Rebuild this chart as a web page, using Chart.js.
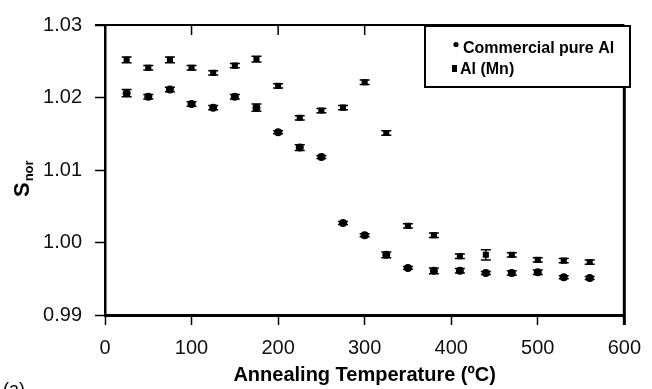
<!DOCTYPE html>
<html><head><meta charset="utf-8">
<script src="https://cdn.jsdelivr.net/npm/chart.js@4.4.1/dist/chart.umd.min.js"></script>
<style>html,body{margin:0;padding:0;background:#fff;}#wrap{width:652px;height:389px;position:relative;}</style>
</head><body><div id="wrap"><canvas id="c" width="652" height="389"></canvas></div>
<script>
const temperatures = [25,50,75,100,125,150,175,200,225,250,275,300,325,350,380,410,440,470,500,530,560];
const pureAl    = [1.0206,1.0201,1.0211,1.0191,1.0186,1.0201,1.0186,1.0152,1.0131,1.0118,1.0027,1.0010,0.9983,0.9965,0.9961,0.9961,0.9958,0.9958,0.9959,0.9952,0.9951];
const pureAlErr = [0.0005,0.0003,0.0003,0.0003,0.0003,0.0003,0.0005,0.0002,0.0004,0.0002,0.0002,0.0002,0.0004,0.0002,0.0004,0.0003,0.0002,0.0003,0.0003,0.0002,0.0002];
const alMn      = [1.0252,1.0241,1.0252,1.0241,1.0234,1.0244,1.0253,1.0216,1.0172,1.0182,1.0186,1.0221,1.0151,1.0023,1.0010,0.9981,0.9983,0.9983,0.9976,0.9975,0.9973];
const alMnErr   = [0.0004,0.0003,0.0004,0.0003,0.0003,0.0003,0.0004,0.0003,0.0003,0.0003,0.0003,0.0003,0.0003,0.0003,0.0003,0.0003,0.0007,0.0003,0.0003,0.0003,0.0003];
const seriesLabels = ['Commercial pure Al', 'Al (Mn)'];
const xTickValues = [0,100,200,300,400,500,600];
const yTickValues = [0.99,1.00,1.01,1.02,1.03];
const xTitle = 'Annealing Temperature (\u00BAC)';
const yTitleMain = 'S';
const yTitleSub = 'nor';
const panelLabel = '(a)';

const toPoints = (vals) => temperatures.map((t, i) => ({x: t, y: vals[i]}));

const errorBarPlugin = {
  id: 'errorBars',
  afterDatasetsDraw(chart) {
    const ctx = chart.ctx, xs = chart.scales.x, ys = chart.scales.y;
    const errs = [pureAlErr, alMnErr];
    ctx.save();
    ctx.strokeStyle = '#000';
    ctx.lineWidth = 1.5;
    chart.data.datasets.forEach((ds, di) => {
      ds.data.forEach((p, i) => {
        const e = errs[di][i];
        const px = xs.getPixelForValue(p.x);
        const y1 = ys.getPixelForValue(p.y + e);
        const y2 = ys.getPixelForValue(p.y - e);
        ctx.beginPath();
        ctx.moveTo(px, y1); ctx.lineTo(px, y2);
        ctx.moveTo(px - 5, y1); ctx.lineTo(px + 5, y1);
        ctx.moveTo(px - 5, y2); ctx.lineTo(px + 5, y2);
        ctx.stroke();
      });
    });
    ctx.restore();
  }
};

const framePlugin = {
  id: 'frame',
  afterDraw(chart) {
    const ctx = chart.ctx, a = chart.chartArea, xs = chart.scales.x;
    ctx.save();
    ctx.strokeStyle = '#000';
    ctx.lineWidth = 2;
    ctx.beginPath(); ctx.moveTo(a.left - 10, a.top); ctx.lineTo(a.right, a.top); ctx.stroke();
    ctx.lineWidth = 3;
    ctx.beginPath(); ctx.moveTo(a.right, a.top); ctx.lineTo(a.right, a.bottom + 10); ctx.stroke();
    ctx.lineWidth = 1.5;
    xTickValues.slice(1, -1).forEach(v => {
      const px = xs.getPixelForValue(v);
      ctx.beginPath(); ctx.moveTo(px, a.top); ctx.lineTo(px, a.top + 10); ctx.stroke();
    });
    ctx.fillStyle = '#000';
    ctx.translate(29, 197);
    ctx.rotate(-Math.PI / 2);
    ctx.textBaseline = 'alphabetic';
    ctx.textAlign = 'left';
    ctx.font = 'bold 22px "Liberation Sans", Arial, sans-serif';
    ctx.fillText(yTitleMain, 0, 0);
    const w = ctx.measureText(yTitleMain).width;
    ctx.font = 'bold 13px "Liberation Sans", Arial, sans-serif';
    ctx.fillText(yTitleSub, w + 1, 4);
    ctx.restore();

    ctx.save();
    ctx.fillStyle = '#000';
    ctx.font = '18px "Liberation Sans", Arial, sans-serif';
    ctx.textBaseline = 'top';
    ctx.fillText(panelLabel, 3, 381);
    ctx.restore();

    ctx.save();
    const bx = 425, by = 26, bw = 205, bh = 61;
    ctx.fillStyle = '#fff';
    ctx.fillRect(bx, by, bw, bh);
    ctx.strokeStyle = '#000';
    ctx.lineWidth = 2;
    ctx.strokeRect(bx, by, bw, bh);
    ctx.fillStyle = '#000';
    ctx.beginPath(); ctx.arc(456, 44.5, 2.6, 0, Math.PI * 2); ctx.fill();
    ctx.fillRect(452, 65, 5, 7);
    ctx.font = 'bold 16px "Liberation Sans", Arial, sans-serif';
    ctx.textBaseline = 'alphabetic';
    ctx.textAlign = 'left';
    ctx.fillText(seriesLabels[0], 463, 53);
    ctx.fillText(seriesLabels[1], 460, 74);
    ctx.restore();
  }
};

new Chart(document.getElementById('c'), {
  type: 'scatter',
  data: {
    datasets: [
      { label: seriesLabels[0], data: toPoints(pureAl), pointStyle: 'circle', pointRadius: 4, pointHoverRadius: 4,
        backgroundColor: '#000', borderColor: '#000', borderWidth: 0 },
      { label: seriesLabels[1], data: toPoints(alMn), pointStyle: 'rect', pointRadius: 4.3, pointHoverRadius: 4.3,
        backgroundColor: '#000', borderColor: '#000', borderWidth: 0 }
    ]
  },
  options: {
    responsive: false,
    animation: false,
    devicePixelRatio: 1,
    layout: { padding: { left: 0, right: 20, top: 20, bottom: 0 } },
    plugins: { legend: { display: false }, tooltip: { enabled: false } },
    scales: {
      x: {
        type: 'linear', min: 0, max: 600,
        afterBuildTicks: (s) => { s.ticks = xTickValues.map(v => ({value: v})); },
        afterFit: (s) => { s.height = 74; },
        grid: { drawOnChartArea: false, drawTicks: true, tickLength: 10, tickWidth: 1.5, tickColor: '#000' },
        border: { display: true, color: '#000', width: 3 },
        ticks: { padding: 11, color: '#111', font: { family: '"Liberation Sans", Arial, sans-serif', size: 20 }, maxRotation: 0 },
        title: { display: true, text: xTitle, color: '#000', padding: { top: 0, bottom: 2 },
                 font: { family: '"Liberation Sans", Arial, sans-serif', size: 20, weight: 'bold' } }
      },
      y: {
        type: 'linear', min: 0.99, max: 1.03,
        afterBuildTicks: (s) => { s.ticks = yTickValues.map(v => ({value: v})); },
        afterFit: (s) => { s.width = 105; },
        grid: { drawOnChartArea: false, drawTicks: true, tickLength: 10, tickWidth: 1.5, tickColor: '#000' },
        border: { display: true, color: '#000', width: 2.5 },
        ticks: { padding: 13, color: '#111', callback: (v) => Number(v).toFixed(2),
                 font: { family: '"Liberation Sans", Arial, sans-serif', size: 20 } }
      }
    }
  },
  plugins: [errorBarPlugin, framePlugin]
});
</script></body></html>
